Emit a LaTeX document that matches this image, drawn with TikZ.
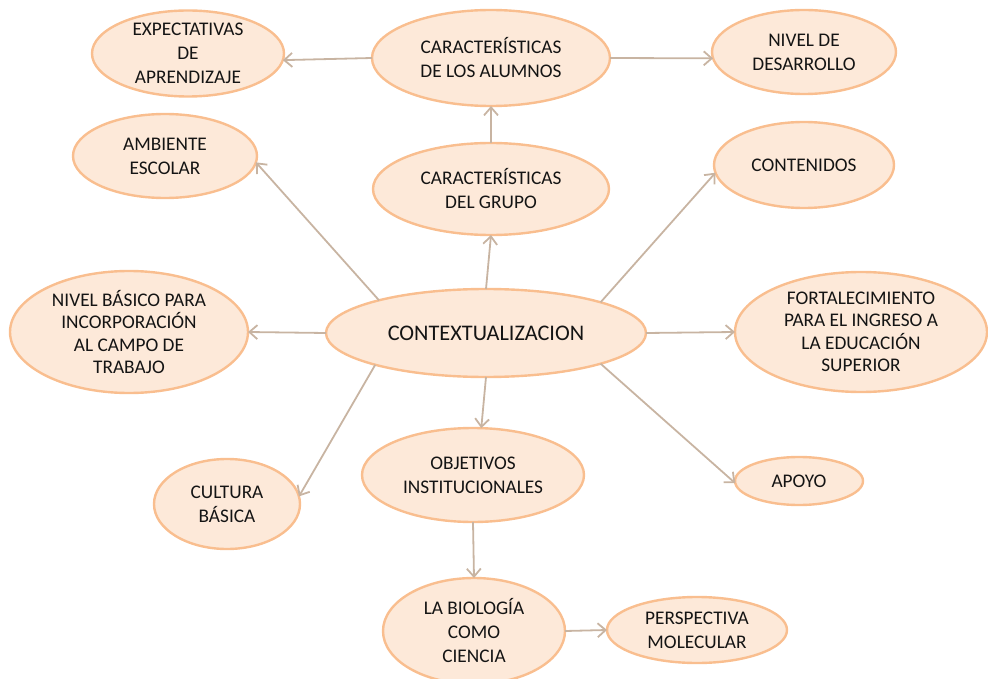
\documentclass[tikz,border=0pt]{standalone}
\usepackage{fontspec}
\setmainfont{Carlito}
\usetikzlibrary{shapes.geometric,arrows.meta}

\definecolor{bubfill}{HTML}{FDE9D9}
\definecolor{bubline}{HTML}{F9BE8F}
\definecolor{linkcol}{HTML}{C8B4A2}
\definecolor{txtcol}{HTML}{141414}

\tikzset{
  bub/.style={ellipse, draw=bubline, fill=bubfill, line width=2.4pt,
    inner sep=-14pt, outer sep=0pt, align=center, text=txtcol,
    font=\fontsize{19.3}{24}\selectfont},
  link/.style={draw=linkcol, line width=1.8pt,
    -{Straight Barb[length=8pt,width=14pt,line width=1.8pt]}}
}

\begin{document}
\begin{tikzpicture}[x=1pt,y=-1pt]
\useasboundingbox (0,0) rectangle (988,679);

% concept bubbles
\node[bub, minimum width=192, minimum height=86] (exp) at (188,53.5) {EXPECTATIVAS\\DE\\APRENDIZAJE};
\node[bub, minimum width=238, minimum height=96] (alu) at (491,58) {CARACTERÍSTICAS\\DE LOS ALUMNOS};
\node[bub, minimum width=184, minimum height=84] (niv) at (804,52) {NIVEL DE\\DESARROLLO};
\node[bub, minimum width=236, minimum height=92] (gru) at (491,189) {CARACTERÍSTICAS\\DEL GRUPO};
\node[bub, minimum width=184, minimum height=84] (amb) at (165,156) {AMBIENTE\\ESCOLAR};
\node[bub, minimum width=180, minimum height=86] (con) at (804,165) {CONTENIDOS};
\node[bub, minimum width=238, minimum height=122, font=\fontsize{19.3}{22.5}\selectfont] (bas) at (129,332) {NIVEL BÁSICO PARA\\INCORPORACIÓN\\AL CAMPO DE\\TRABAJO};
\node[bub, minimum width=320, minimum height=88, font=\fontsize{22.3}{26}\selectfont] (ctx) at (486,333) {CONTEXTUALIZACION};
\node[bub, minimum width=252, minimum height=120, font=\fontsize{19.3}{22.5}\selectfont] (fort) at (861,332) {FORTALECIMIENTO\\PARA EL INGRESO A\\LA EDUCACIÓN\\SUPERIOR};
\node[bub, minimum width=146, minimum height=90] (cul) at (227,504) {CULTURA\\BÁSICA};
\node[bub, minimum width=222, minimum height=94] (obj) at (473,475) {OBJETIVOS\\INSTITUCIONALES};
\node[bub, minimum width=128, minimum height=48] (apo) at (799,481) {APOYO};
\node[bub, minimum width=182, minimum height=106] (bio) at (474,631) {LA BIOLOGÍA\\COMO\\CIENCIA};
\node[bub, minimum width=180, minimum height=66] (per) at (697,630) {PERSPECTIVA\\MOLECULAR};

% connectors
\draw[link] (alu.180) -- (exp.-4);
\draw[link] (alu.0) -- (niv.184);
\draw[link] (gru.north) -- (alu.south);
\draw[link] (ctx.north) -- (gru.south);
\draw[link] (ctx.163) -- (amb.-4);
\draw[link] (ctx.15) -- (con.185);
\draw[link] (ctx.180) -- (bas.0);
\draw[link] (ctx.0) -- (fort.180);
\draw[link] (ctx.196) -- (cul.6);
\draw[link] (ctx.270) -- (obj.80);
\draw[link] (ctx.-15) -- (apo.182);
\draw[link] (obj.south) -- (bio.north);
\draw[link] (bio.east) -- (per.west);
\end{tikzpicture}
\end{document}
